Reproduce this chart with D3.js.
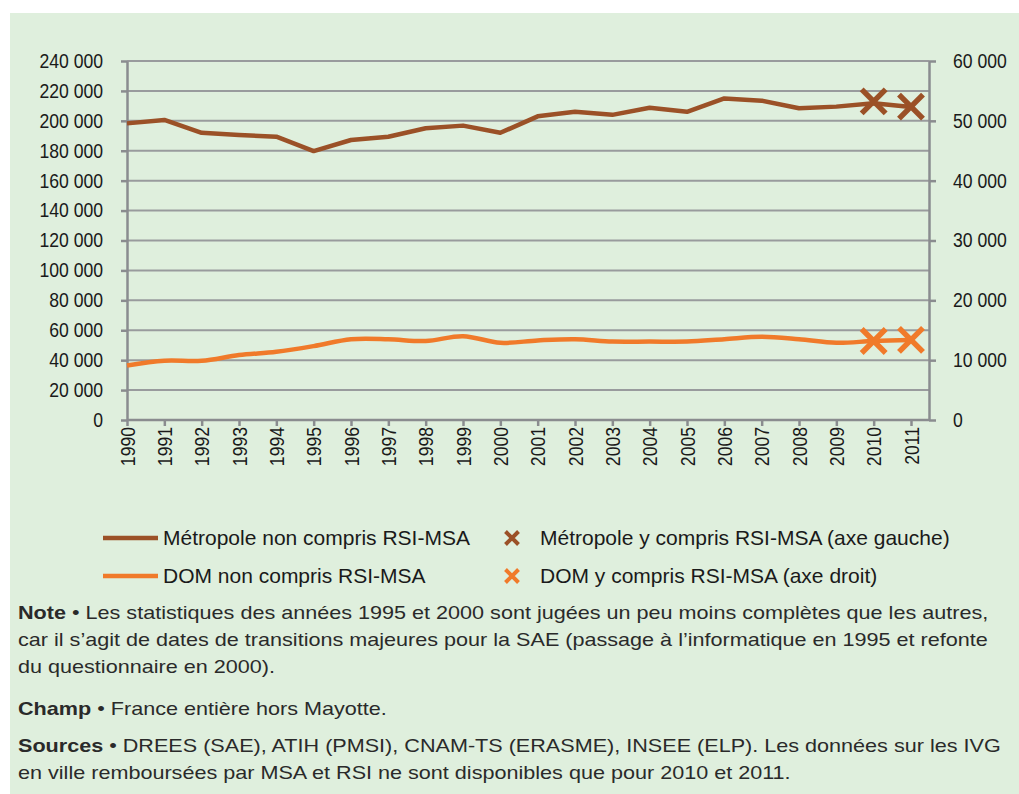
<!DOCTYPE html>
<html>
<head>
<meta charset="utf-8">
<script src="https://cdn.jsdelivr.net/npm/d3@7"></script>
<style>
  body { margin: 0; background: #ffffff; }
  .axis text { font-family: "Liberation Sans", Arial, sans-serif; font-size: 20px; fill: #1a1a1a; }
  .legend text { font-family: "Liberation Sans", Arial, sans-serif; font-size: 21px; fill: #1a1a1a; }
  .notes text { font-family: "Liberation Sans", Arial, sans-serif; font-size: 18px; fill: #2a2a2a; }
</style>
</head>
<body>
<svg id="chart" width="1019" height="794"></svg>
<script>
// years on the x axis
var years = [1990, 1991, 1992, 1993, 1994, 1995, 1996, 1997, 1998, 1999, 2000,
             2001, 2002, 2003, 2004, 2005, 2006, 2007, 2008, 2009, 2010, 2011];

// Métropole non compris RSI-MSA (left axis)
var metropole = [198300, 200600, 192000, 190500, 189400, 179800, 187200, 189400, 195000, 196800, 192000,
                 203000, 206000, 204000, 208800, 206000, 215000, 213500, 208400, 209500, 211800, 209300];

// DOM non compris RSI-MSA (right axis)
var dom = [9100, 9900, 9900, 10850, 11400, 12350, 13500, 13500, 13200, 14000, 12900,
           13300, 13500, 13100, 13100, 13100, 13500, 13900, 13500, 12900, 13200, 13350];

// y compris RSI-MSA, only 2010 and 2011
var crossYears = [2010, 2011];
var metropoleAll = [213000, 209500];
var domAll = [13200, 13400];

var leftTicks = d3.range(0, 240001, 20000);
var rightTicks = d3.range(0, 60001, 10000);

var legendItems = [
    { label: "Métropole non compris RSI-MSA", kind: "line", color: "#9b5127" },
    { label: "Métropole y compris RSI-MSA (axe gauche)", kind: "cross", color: "#9b5127" },
    { label: "DOM non compris RSI-MSA", kind: "line", color: "#f07a2a" },
    { label: "DOM y compris RSI-MSA (axe droit)", kind: "cross", color: "#f07a2a" }
];

var notes = [
    { bold: "Note", text: " • Les statistiques des années 1995 et 2000 sont jugées un peu moins complètes que les autres,", y: 619 },
    { bold: "", text: "car il s’agit de dates de transitions majeures pour la SAE (passage à l’informatique en 1995 et refonte", y: 646 },
    { bold: "", text: "du questionnaire en 2000).", y: 673 },
    { bold: "Champ", text: " • France entière hors Mayotte.", y: 715 },
    { bold: "Sources", text: " • DREES (SAE), ATIH (PMSI), CNAM-TS (ERASME), INSEE (ELP). Les données sur les IVG", y: 752 },
    { bold: "", text: "en ville remboursées par MSA et RSI ne sont disponibles que pour 2010 et 2011.", y: 779 }
];

var svg = d3.select("#chart");

// narrow the axis font a bit (the original uses a condensed face)
function squeeze(sel, k) {
    sel.each(function () {
        var len = this.getComputedTextLength();
        d3.select(this)
            .attr("textLength", len * k)
            .attr("lengthAdjust", "spacingAndGlyphs");
    });
}

// green panel
svg.append("rect")
    .attr("x", 10)
    .attr("y", 13)
    .attr("width", 1009)
    .attr("height", 781)
    .attr("fill", "#dfefdd");

var plot = { left: 127, right: 929, top: 61, bottom: 420 };

var x = d3.scaleLinear().domain([1990, 2011]).range([plot.left, 911]);
var yLeft = d3.scaleLinear().domain([0, 240000]).range([plot.bottom, plot.top]);
var yRight = d3.scaleLinear().domain([0, 60000]).range([plot.bottom, plot.top]);

var fr = d3.formatLocale({ decimal: ",", thousands: " ", grouping: [3], currency: ["", " €"] });
var fmt = fr.format(",d");

// gridlines
svg.append("g")
    .selectAll("line")
    .data(leftTicks.slice(1))
    .enter()
    .append("line")
    .attr("x1", plot.left)
    .attr("x2", plot.right)
    .attr("y1", d => yLeft(d))
    .attr("y2", d => yLeft(d))
    .attr("stroke", "#999b9d")
    .attr("stroke-width", 2);

// axes
var leftAxis = svg.append("g")
    .attr("class", "axis")
    .attr("transform", `translate(${plot.left},0)`)
    .call(d3.axisLeft(yLeft).tickValues(leftTicks).tickFormat(fmt).tickSize(6).tickSizeOuter(0).tickPadding(18));

var rightAxis = svg.append("g")
    .attr("class", "axis")
    .attr("transform", `translate(${plot.right},0)`)
    .call(d3.axisRight(yRight).tickValues(rightTicks).tickFormat(fmt).tickSize(7).tickSizeOuter(0).tickPadding(17));

var bottomAxis = svg.append("g")
    .attr("class", "axis")
    .attr("transform", `translate(0,${plot.bottom})`)
    .call(d3.axisBottom(x).tickValues(years).tickFormat(d3.format("d")).tickSize(6).tickSizeOuter(0));

bottomAxis.select(".domain").attr("d", `M${plot.left},0H${plot.right}`);

bottomAxis.selectAll("text")
    .attr("transform", "rotate(-90)")
    .attr("text-anchor", "end")
    .attr("x", -7)
    .attr("y", 0)
    .attr("dy", "0.35em");

squeeze(svg.selectAll(".axis text"), 0.88);

svg.selectAll(".axis .domain, .axis .tick line")
    .attr("stroke", "#8a8c8f")
    .attr("stroke-width", 2.5);

// series lines
var metroLine = d3.line()
    .x((d, i) => x(years[i]))
    .y(d => yLeft(d));

var domLine = d3.line()
    .x((d, i) => x(years[i]))
    .y(d => yRight(d))
    .curve(d3.curveCatmullRom.alpha(0.5));

svg.append("path")
    .datum(metropole)
    .attr("d", metroLine)
    .attr("fill", "none")
    .attr("stroke", "#9b5127")
    .attr("stroke-width", 4.5)
    .attr("stroke-linejoin", "round");

svg.append("path")
    .datum(dom)
    .attr("d", domLine)
    .attr("fill", "none")
    .attr("stroke", "#f07a2a")
    .attr("stroke-width", 4.5)
    .attr("stroke-linejoin", "round");

// cross markers
function drawCross(g, cx, cy, size, color, w) {
    g.append("path")
        .attr("d", `M${cx - size},${cy - size}L${cx + size},${cy + size}M${cx - size},${cy + size}L${cx + size},${cy - size}`)
        .attr("stroke", color)
        .attr("stroke-width", w)
        .attr("fill", "none");
}

var markers = svg.append("g");
crossYears.forEach(function (yr, i) {
    drawCross(markers, x(yr), yLeft(metropoleAll[i]), 12, "#9b5127", 5.5);
    drawCross(markers, x(yr), yRight(domAll[i]), 12, "#f07a2a", 5.5);
});

// legend
var legend = svg.append("g").attr("class", "legend");
legendItems.forEach(function (item, i) {
    var col = i % 2, row = Math.floor(i / 2);
    var lx = col === 0 ? 103 : 503;
    var ly = 538 + row * 38;
    if (item.kind === "line") {
        legend.append("line")
            .attr("x1", lx).attr("x2", lx + 55)
            .attr("y1", ly).attr("y2", ly)
            .attr("stroke", item.color)
            .attr("stroke-width", 4.5);
        legend.append("text")
            .attr("x", lx + 60).attr("y", ly)
            .attr("dy", "0.35em")
            .text(item.label);
    } else {
        drawCross(legend, lx + 9, ly, 6.5, item.color, 4);
        legend.append("text")
            .attr("x", lx + 37).attr("y", ly)
            .attr("dy", "0.35em")
            .text(item.label);
    }
});

// notes (original text is a bit stretched horizontally)
var notesG = svg.append("g")
    .attr("class", "notes")
    .attr("transform", "translate(18,0) scale(1.2,1)");
notes.forEach(function (n) {
    var t = notesG.append("text").attr("x", 0).attr("y", n.y);
    if (n.bold) t.append("tspan").attr("font-weight", "bold").text(n.bold);
    t.append("tspan").text(n.text);
});
</script>
</body>
</html>
